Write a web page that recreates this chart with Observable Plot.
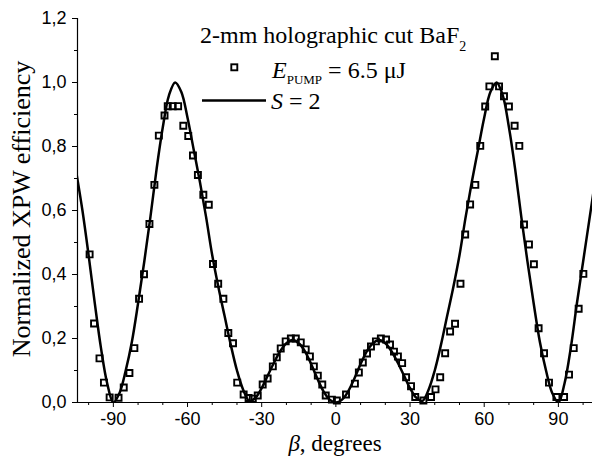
<!DOCTYPE html>
<html><head><meta charset="utf-8">
<script src="https://cdn.jsdelivr.net/npm/d3@7"></script>
<script src="https://cdn.jsdelivr.net/npm/@observablehq/plot@0.6"></script>
<style>
body{margin:0;background:#fff}
#chart{position:relative;width:592px;height:457px}
</style>
</head><body><div id="chart"></div>
<script>
// Measured points (beta in degrees, normalized efficiency)
const measBeta = [-99.6,-97.8,-95.6,-93.8,-91.5,-87.9,-85.8,-83.5,-81.5,-79.6,-77.6,-75.4,-73.4,-71.6,-69.3,-68.0,-66.0,-63.8,-61.7,-59.7,-57.8,-55.8,-53.6,-51.4,-49.7,-47.6,-45.5,-43.5,-41.6,-39.9,-37.3,-35.3,-33.6,-31.6,-29.6,-27.6,-25.5,-23.9,-22.3,-20.3,-18.2,-16.2,-14.2,-12.2,-10.5,-8.9,-7.3,-5.5,-4.1,-1.6,0.4,4.1,7.7,9.3,10.9,12.6,14.2,16.2,18.2,20.3,21.9,23.5,25.1,26.8,28.4,30.4,32.1,35.4,38.5,40.3,42.2,44.2,46.2,48.2,50.4,52.3,54.3,56.4,58.4,60.4,62.1,64.3,66.0,68.0,70.0,72.3,74.2,76.1,78.1,80.1,82.0,84.2,86.2,89.2,92.3,94.3,96.2,98.2,100.1];
const measEff  = [0.463,0.247,0.138,0.062,0.016,0.015,0.047,0.092,0.170,0.324,0.401,0.558,0.680,0.834,0.897,0.926,0.926,0.926,0.865,0.833,0.772,0.711,0.649,0.618,0.433,0.371,0.324,0.217,0.185,0.062,0.025,0.014,0.012,0.022,0.056,0.075,0.113,0.141,0.169,0.191,0.200,0.200,0.188,0.166,0.144,0.113,0.084,0.056,0.022,0.009,0.006,0.025,0.059,0.094,0.125,0.153,0.175,0.191,0.200,0.197,0.181,0.159,0.144,0.123,0.079,0.051,0.017,0.006,0.017,0.041,0.079,0.154,0.222,0.246,0.371,0.525,0.619,0.680,0.802,0.925,0.988,1.082,0.988,0.957,0.925,0.865,0.802,0.556,0.494,0.432,0.232,0.154,0.062,0.017,0.017,0.087,0.170,0.293,0.402];

// Theoretical curve S = 2
const curveBeta = [-105,-102.5,-100,-97.5,-95,-92.5,-90,-87.5,-85,-82.5,-80,-77.5,-75,-72.5,-70,-67.5,-65,-62.5,-60,-57.5,-55,-52.5,-50,-47.5,-45,-42.5,-40,-37.5,-35,-32.5,-30,-27.5,-25,-22.5,-20,-17.5,-15,-12.5,-10,-7.5,-5,-2.5,0,2.5,5,7.5,10,12.5,15,17.5,20,22.5,25,27.5,30,32.5,35,37.5,40,42.5,45,47.5,50,52.5,55,57.5,60,62.5,65,67.5,70,72.5,75,77.5,80,82.5,85,87.5,90,92.5,95,97.5,100,102.5,105];
const curveEff  = [0.72,0.60,0.46,0.31,0.17,0.06,0.0,0.03,0.10,0.19,0.31,0.44,0.58,0.73,0.86,0.96,1.0,0.97,0.89,0.79,0.69,0.58,0.46,0.36,0.27,0.18,0.10,0.04,0.005,0.015,0.045,0.085,0.125,0.16,0.185,0.195,0.185,0.16,0.12,0.075,0.035,0.009,0.0,0.009,0.035,0.075,0.12,0.16,0.185,0.195,0.185,0.16,0.125,0.085,0.045,0.015,0.005,0.04,0.10,0.18,0.27,0.36,0.46,0.58,0.69,0.79,0.89,0.97,1.0,0.96,0.86,0.73,0.58,0.44,0.31,0.19,0.10,0.03,0.0,0.06,0.17,0.31,0.44,0.57,0.70];

const xTicks = [-90,-60,-30,0,30,60,90];
const xTickLabels = ["-90","-60","-30","0","30","60","90"];
const xMinor = [-100,-80,-70,-50,-40,-20,-10,10,20,40,50,70,80,100];
const yTicks = [0,0.2,0.4,0.6,0.8,1.0,1.2];
const yTickLabels = ["0,0","0,2","0,4","0,6","0,8","1,0","1,2"];
const yMinor = [0.1,0.3,0.5,0.7,0.9,1.1];

const meas = measBeta.map((b,i)=>({b, e: measEff[i]}));
const curve = curveBeta.map((b,i)=>({b, e: curveEff[i]}));

const W = 592, H = 457, mL = 77, mR = 0, mT = 18, mB = 55;
const xDom = [-104.5, 103.8];
const tickFont = {fontFamily: "Liberation Sans, Arial, sans-serif", fontSize: 18};

const plot = Plot.plot({
  width: W, height: H,
  marginLeft: mL, marginRight: mR, marginTop: mT, marginBottom: mB,
  style: {background: "#fff", color: "#000", fontFamily: "Liberation Sans, Arial, sans-serif", fontSize: "18px", overflow: "visible"},
  x: {domain: xDom},
  y: {domain: [0, 1.2]},
  marks: [
    Plot.axisX({ticks: xMinor, tickSize: 3, tickFormat: () => "", label: null}),
    Plot.axisX({ticks: xTicks, tickSize: 5, tickPadding: 5, tickFormat: d => xTickLabels[xTicks.indexOf(d)], label: null, ...tickFont}),
    Plot.axisY({ticks: yMinor, tickSize: 3, tickFormat: () => "", label: null}),
    Plot.axisY({ticks: yTicks, tickSize: 5, tickPadding: 6, tickFormat: d => yTickLabels[yTicks.indexOf(d)], label: null, ...tickFont}),
    Plot.ruleX([xDom[0]], {stroke: "#000", strokeWidth: 1.2}),
    Plot.ruleY([0], {stroke: "#000", strokeWidth: 1.2}),
    Plot.line(curve, {x: "b", y: "e", stroke: "#000", strokeWidth: 2.5, curve: "catmull-rom", clip: true}),
    Plot.dot(meas, {x: "b", y: "e", symbol: "square", r: 3.4, stroke: "#000", strokeWidth: 1.9, fill: "none"})
  ]
});
document.getElementById("chart").appendChild(plot);

const svg = d3.select(plot);
const serif = "Liberation Serif, Times New Roman, serif";
// y axis label
svg.append("text").attr("transform", "translate(30,209) rotate(-90)")
  .attr("text-anchor", "middle").attr("font-family", serif).attr("font-size", 26)
  .attr("fill", "#000").text("Normalized XPW efficiency");
// x axis label
const xl = svg.append("text").attr("x", 335).attr("y", 451).attr("text-anchor", "middle")
  .attr("font-family", serif).attr("font-size", 23).attr("fill", "#000");
xl.append("tspan").attr("font-style", "italic").text("β");
xl.append("tspan").text(", degrees");

// legend
const lg = svg.append("g").attr("font-family", serif).attr("fill", "#000").attr("text-anchor", "start");
const t1 = lg.append("text").attr("x", 200).attr("y", 43).attr("font-size", 24).attr("text-anchor", "start");
t1.append("tspan").text("2-mm holographic cut BaF");
t1.append("tspan").attr("font-size", 14).attr("dy", 8).text("2");
lg.append("rect").attr("x", 231.3).attr("y", 64.3).attr("width", 6).attr("height", 6)
  .attr("fill", "none").attr("stroke", "#000").attr("stroke-width", 1.9);
const t2 = lg.append("text").attr("x", 272).attr("y", 78).attr("font-size", 24).attr("text-anchor", "start");
t2.append("tspan").attr("font-style", "italic").text("E");
t2.append("tspan").attr("font-size", 13).attr("dy", 6).text("PUMP");
t2.append("tspan").attr("dy", -6).text(" = 6.5 μJ");
lg.append("line").attr("x1", 202).attr("x2", 266).attr("y1", 100.5).attr("y2", 100.5)
  .attr("stroke", "#000").attr("stroke-width", 2.5);
const t3 = lg.append("text").attr("x", 271).attr("y", 109).attr("font-size", 24).attr("text-anchor", "start");
t3.append("tspan").attr("font-style", "italic").text("S");
t3.append("tspan").text(" = 2");
</script>
</body></html>
